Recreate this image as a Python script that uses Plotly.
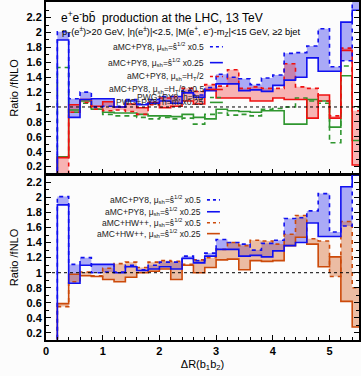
import plotly.graph_objects as go

# bin edges of dR(b1,b2)
edges = [0.2, 0.4, 0.6, 0.8, 1.0, 1.2, 1.4, 1.6, 1.8, 2.0, 2.2, 2.4, 2.6, 2.8, 3.0,
         3.2, 3.4, 3.6, 3.8, 4.0, 4.2, 4.4, 4.6, 4.8, 5.0, 5.2, 5.4, 5.6]

py8_s05 = [2.01, 1.11, 1.20, 1.00, 1.01, 1.01, 1.10, 1.04, 1.10, 1.14, 1.14, 1.22, 1.16, 1.26,
           1.44, 1.40, 1.38, 1.30, 1.39, 1.43, 1.72, 1.73, 1.82, 2.05, 1.54, 1.62, 2.45]
py8_s025 = [1.90, 0.86, 1.10, 1.11, 1.11, 1.00, 1.08, 1.03, 1.05, 1.08, 1.05, 1.19, 1.13, 1.22,
            1.31, 1.31, 1.22, 1.23, 1.21, 1.29, 1.36, 1.40, 1.66, 1.48, 1.48, 2.14, 2.30]
py8_ht = [0.0, 0.93, 1.06, 0.97, 0.95, 0.96, 0.94, 0.90, 1.03, 1.12, 1.14, 1.25, 1.21, 1.30,
          1.28, 1.50, 1.25, 1.27, 1.25, 1.25, 1.58, 1.27, 1.25, 1.08, 0.88, 1.79, 0.95]
py8_ht05 = [0.32, 1.03, 1.10, 1.01, 1.07, 1.00, 1.04, 0.99, 1.06, 0.99, 1.01, 1.08, 1.04, 1.23,
            1.12, 1.12, 1.12, 1.08, 1.08, 1.12, 1.10, 1.10, 0.85, 1.16, 0.85, 1.76, 0.22]
pwg_mz = [1.53, 0.93, 1.05, 0.97, 0.90, 0.88, 0.88, 0.86, 0.84, 0.86, 0.84, 0.85, 0.77, 0.90,
          0.92, 0.89, 0.90, 0.88, 0.97, 0.98, 1.00, 1.12, 1.08, 1.05, 0.52, 1.55, 1.00]
pwg_mz025 = [0.33, 0.96, 1.08, 0.97, 0.93, 0.92, 0.92, 0.90, 0.88, 0.88, 0.87, 0.90, 0.86, 0.84,
             0.97, 0.95, 0.94, 0.93, 0.95, 0.95, 0.77, 0.77, 1.10, 1.08, 0.73, 1.42, 0.55]
hw_s05 = [0.55, 0.88, 1.01, 0.96, 1.06, 1.12, 1.14, 1.07, 1.14, 1.16, 1.15, 1.11, 1.17, 1.20,
          1.31, 1.40, 1.36, 1.43, 1.42, 1.38, 1.51, 1.76, 1.45, 1.42, 0.95, 1.68, 0.80]
hw_s025 = [0.59, 0.98, 0.96, 0.95, 0.91, 0.88, 0.94, 1.00, 1.02, 1.05, 0.91, 1.10, 1.00, 1.07,
           1.17, 1.18, 1.04, 1.16, 1.15, 1.16, 1.36, 1.47, 1.38, 1.08, 1.21, 0.62, 0.28]

BLUE = "#1010f0"
RED = "#f01010"
GREEN = "#2f962f"
ORANGE = "#cc4a0a"
FILL_B = "rgba(70,70,240,0.45)"
FILL_R = "rgba(240,70,70,0.40)"
FILL_O = "rgba(215,110,55,0.45)"
FONT = "Liberation Sans, Arial, sans-serif"

fig = go.Figure()


def step_xy(vals):
    xs = [0.0] + edges
    ys = [-1.0] + list(vals) + [vals[-1]]
    return xs, ys


def band(a, b, color, xa, ya):
    ys_a = list(a) + [a[-1]]
    ys_b = list(b) + [b[-1]]
    fig.add_trace(go.Scatter(x=edges, y=ys_a, mode="lines", line=dict(width=0, shape="hv"),
                             xaxis=xa, yaxis=ya, showlegend=False, hoverinfo="skip"))
    fig.add_trace(go.Scatter(x=edges, y=ys_b, mode="lines", line=dict(width=0, shape="hv"),
                             fill="tonexty", fillcolor=color,
                             xaxis=xa, yaxis=ya, showlegend=False, hoverinfo="skip"))


def line(vals, color, dash, xa, ya, width=1.6):
    xs, ys = step_xy(vals)
    fig.add_trace(go.Scatter(x=xs, y=ys, mode="lines",
                             line=dict(color=color, width=width, dash=dash, shape="hv"),
                             xaxis=xa, yaxis=ya, showlegend=False, hoverinfo="skip"))


# top panel
band(py8_s05, py8_s025, FILL_B, "x", "y")
band(py8_ht, py8_ht05, FILL_R, "x", "y")
line(pwg_mz, GREEN, "5px,4px", "x", "y")
line(pwg_mz025, GREEN, "solid", "x", "y")
line(py8_ht, RED, "4px,4px", "x", "y")
line(py8_ht05, RED, "solid", "x", "y")
line(py8_s05, BLUE, "4px,4px", "x", "y")
line(py8_s025, BLUE, "solid", "x", "y")

# bottom panel
band(py8_s05, py8_s025, FILL_B, "x2", "y2")
band(hw_s05, hw_s025, FILL_O, "x2", "y2")
line(hw_s05, ORANGE, "4px,4px", "x2", "y2")
line(hw_s025, ORANGE, "solid", "x2", "y2")
line(py8_s05, BLUE, "4px,4px", "x2", "y2")
line(py8_s025, BLUE, "solid", "x2", "y2")

W, H = 361, 376
ML, MR, MT, MB = 46, 0, 0, 36
PW, PH = W - ML - MR, H - MT - MB


def px(x):
    return (x - ML) / PW


def py(y):
    return (H - MB - y) / PH


common_x = dict(range=[0, 5.52], showline=True, linecolor="black", linewidth=2, mirror=True,
                ticks="inside", ticklen=5, tickwidth=1.2, tickcolor="black", dtick=1, tick0=0,
                minor=dict(dtick=0.2, ticks="inside", ticklen=3, tickcolor="black"),
                showgrid=False, zeroline=False)
common_y = dict(showline=True, linecolor="black", linewidth=2, mirror="ticks",
                ticks="inside", ticklen=5, tickwidth=1.2, tickcolor="black", dtick=0.2, tick0=0,
                minor=dict(dtick=0.1, ticks="inside", ticklen=3, tickcolor="black"),
                showgrid=False, zeroline=False,
                tickfont=dict(family=FONT, size=11, color="black", weight="bold"),
                title=dict(text="Ratio /fNLO", font=dict(family=FONT, size=11, color="black"),
                           standoff=6))

fig.update_layout(
    width=W, height=H, margin=dict(l=ML, r=MR, t=MT, b=MB),
    paper_bgcolor="#fcfcfc", plot_bgcolor="#fcfcfc", showlegend=False,
    xaxis=dict(common_x, anchor="y", showticklabels=False),
    yaxis=dict(common_y, domain=[py(173), 1], range=[0.1, 2.41], anchor="x"),
    xaxis2=dict(common_x, anchor="y2", matches="x",
                tickfont=dict(family=FONT, size=11, color="black", weight="bold"),
                title=dict(text="ΔR(b<sub>1</sub>b<sub>2</sub>)",
                           font=dict(family=FONT, size=11, color="black"), standoff=4)),
    yaxis2=dict(common_y, domain=[0, py(174)], range=[0.107, 2.297], anchor="x2"),
)

# reference line at 1
for xr, yr in (("x", "y"), ("x2", "y2")):
    fig.add_shape(type="line", xref=xr + " domain", yref=yr, x0=0, x1=1, y0=1, y1=1,
                  line=dict(color="black", width=1, dash="3px,3px"))

# title texts
fig.add_annotation(xref="paper", yref="paper", x=px(59), y=py(15), xanchor="left", yanchor="middle",
                   text="e<sup>+</sup>e<sup>-</sup>bb\u0304  production at the LHC, 13 TeV",
                   showarrow=False, font=dict(family=FONT, size=12, color="black"))
fig.add_annotation(xref="paper", yref="paper", x=px(60), y=py(30), xanchor="left", yanchor="middle",
                   text="p<sub>T</sub>(e<sup>±</sup>)>20 GeV, |η(e<sup>±</sup>)|<2.5, |M(e<sup>+</sup>, e<sup>-</sup>)-m<sub>Z</sub>|<15 GeV, ≥2 bjet",
                   showarrow=False, font=dict(family=FONT, size=9.3, color="black"))

SH = "μ<sub>sh</sub>"
top_leg = [
    ("aMC+PY8, " + SH + "=ŝ<sup>1/2</sup> x0.5", BLUE, "3px,3px", 45),
    ("aMC+PY8, " + SH + "=ŝ<sup>1/2</sup> x0.25", BLUE, "solid", 61),
    ("aMC+PY8, " + SH + "=H<sub>T</sub>/2", RED, "3px,3px", 75),
    ("aMC+PY8, " + SH + "=H<sub>T</sub>/2 x0.5", RED, "solid", 88),
    ("PWG+PY8, h=m<sub>Z</sub>", GREEN, "4px,3px", 96),
    ("PWG+PY8, h=m<sub>Z</sub>x0.25", GREEN, "solid", 101),
]
bot_leg = [
    ("aMC+PY8, " + SH + "=ŝ<sup>1/2</sup> x0.5", BLUE, "3px,3px", 199),
    ("aMC+PY8, " + SH + "=ŝ<sup>1/2</sup> x0.25", BLUE, "solid", 211),
    ("aMC+HW++, " + SH + "=ŝ<sup>1/2</sup> x0.5", ORANGE, "3px,3px", 222),
    ("aMC+HW++, " + SH + "=ŝ<sup>1/2</sup> x0.25", ORANGE, "solid", 233),
]
for items, xr in ((top_leg, 207), (bot_leg, 204)):
    for txt, col, dash, yy in items:
        fig.add_annotation(xref="paper", yref="paper", x=px(xr), y=py(yy), xanchor="right",
                           yanchor="middle", text=txt, showarrow=False,
                           font=dict(family=FONT, size=8.5, color="#222"))
        fig.add_shape(type="line", xref="paper", yref="paper", x0=px(xr + 4), x1=px(xr + 17),
                      y0=py(yy), y1=py(yy), line=dict(color=col, width=1.6, dash=dash))

fig.write_html("out.html", config={"displayModeBar": False},
               post_script="document.body.style.margin='0px';document.body.style.overflow='hidden';")
